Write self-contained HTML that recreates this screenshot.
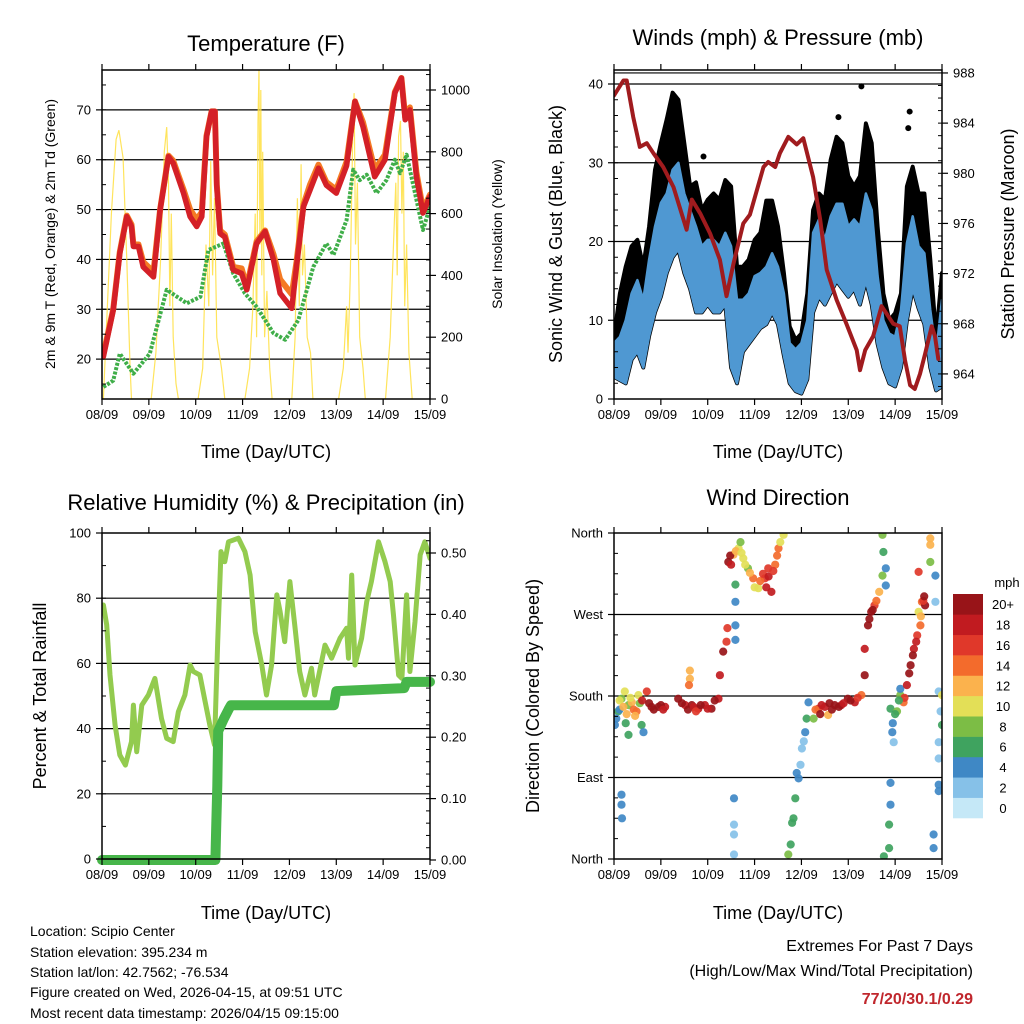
<!DOCTYPE html>
<html><head><meta charset="utf-8"><title>Weather station 7-day summary</title>
<style>
html,body{margin:0;padding:0;background:#fff;}
svg{display:block;font-family:"Liberation Sans",Arial,sans-serif;}
</style></head>
<body>
<svg id="chart" width="1024" height="1024" viewBox="0 0 1024 1024" xmlns="http://www.w3.org/2000/svg">
<defs>
<clipPath id="c1"><rect x="102" y="70" width="328" height="329"/></clipPath>
<clipPath id="c2"><rect x="614" y="70" width="328" height="329"/></clipPath>
<clipPath id="c3"><rect x="102" y="533" width="328" height="326"/></clipPath>
<clipPath id="c4"><rect x="614" y="533" width="328" height="326"/></clipPath>
</defs>
<g font-size="22" text-anchor="middle" fill="#000">
<text x="266" y="51">Temperature (F)</text>
<text x="778" y="45">Winds (mph) &amp; Pressure (mb)</text>
<text x="266" y="510">Relative Humidity (%) &amp; Precipitation (in)</text>
<text x="778" y="505">Wind Direction</text>
</g>
<g font-size="18" text-anchor="middle">
<text x="266" y="458">Time (Day/UTC)</text>
<text x="778" y="458">Time (Day/UTC)</text>
<text x="266" y="919">Time (Day/UTC)</text>
<text x="778" y="919">Time (Day/UTC)</text>
<text font-size="14" transform="translate(55,234) rotate(-90)">2m &amp; 9m T (Red, Orange) &amp; 2m Td (Green)</text>
<text font-size="14" transform="translate(502,234) rotate(-90)">Solar Insolation (Yellow)</text>
<text transform="translate(562,234) rotate(-90)">Sonic Wind &amp; Gust (Blue, Black)</text>
<text transform="translate(1014,234) rotate(-90)">Station Pressure (Maroon)</text>
<text transform="translate(46,696) rotate(-90)">Percent &amp; Total Rainfall</text>
<text transform="translate(539,696) rotate(-90)">Direction (Colored By Speed)</text>
</g>
<g font-size="14">
<text x="30" y="936">Location: Scipio Center</text>
<text x="30" y="957">Station elevation: 395.234 m</text>
<text x="30" y="977">Station lat/lon: 42.7562; -76.534</text>
<text x="30" y="997">Figure created on Wed, 2026-04-15, at 09:51 UTC</text>
<text x="30" y="1018">Most recent data timestamp: 2026/04/15 09:15:00</text>
</g>
<g font-size="16" text-anchor="end">
<text x="973" y="951">Extremes For Past 7 Days</text>
<text x="973" y="976">(High/Low/Max Wind/Total Precipitation)</text>
<text x="973" y="1004" fill="#c0272d" font-weight="bold">77/20/30.1/0.29</text>
</g>
</svg>
<script>
// ---------- DATA ----------
const dayLabels = ["08/09","09/09","10/09","11/09","12/09","13/09","14/09","15/09"];
const tTime = [0.03,0.24,0.38,0.53,0.63,0.67,0.78,0.88,1.1,1.24,1.42,1.52,1.74,1.88,2.02,2.13,2.23,2.34,2.41,2.45,2.52,2.62,2.8,2.98,3.09,3.3,3.48,3.66,3.8,4.05,4.15,4.3,4.44,4.62,4.79,5.0,5.22,5.4,5.57,5.82,6.04,6.25,6.39,6.47,6.57,6.71,6.85,7.0];
const tRed = [20.5,29.8,41.2,48.6,46.6,42.6,42.6,38.5,36.5,49.9,60.6,59.3,53.3,48.6,46.6,48.6,64.6,69.7,69.7,54.6,45.2,44.5,37.9,37.2,33.9,43.2,45.6,39.9,33.2,30.2,38.5,50.6,53.9,58.3,54.9,53.3,58.8,71.7,66.6,56.6,60,73.4,76.4,68,70,56.6,49.3,52.6];
const tOrange = [21,30,41.5,48.8,47,43,43,39.5,37.5,50,60.8,59.8,54,50,48,49.5,64.8,69.7,69.7,55,45.8,45,38.5,38.2,34.5,43.6,45.8,41,36,33,39.5,51,55,59,55.5,54,59.6,71.7,67.5,58,61,73.6,76.4,68.5,70.5,57.5,50,53];
const tdTime = [0.03,0.24,0.38,0.67,1.02,1.38,1.81,2.1,2.27,2.59,2.8,3.05,3.3,3.66,3.91,4.19,4.51,4.79,4.94,5.22,5.36,5.5,5.65,5.86,6.07,6.25,6.36,6.5,6.68,6.85,7.0];
const tdVal = [14.4,15.7,21.1,17.1,21.1,33.9,31.2,32.5,41.9,43.2,37.2,33.2,30.5,25.2,23.9,27.8,38.5,43.2,40.9,47.9,58,55.9,57,53.3,55.9,60,57.3,61,53.3,45.9,50.6];
const solTime = [0.03,0.1,0.2,0.3,0.36,0.45,0.53,0.6,0.63, 1.05,1.15,1.25,1.33,1.38,1.42,1.45,1.48,1.52,1.58,1.63, 2.05,2.15,2.22,2.28,2.32,2.36,2.4,2.45,2.55,2.62, 3.05,3.15,3.22,3.27,3.3,3.33,3.35,3.37,3.39,3.41,3.43,3.47,3.52,3.58,3.63, 4.05,4.12,4.17,4.21,4.25,4.28,4.32,4.38,4.45,4.5, 5.05,5.15,5.22,5.25,5.3,5.35,5.38,5.41,5.45,5.5,5.57,5.62, 6.05,6.15,6.22,6.27,6.3,6.33,6.37,6.4,6.43,6.46,6.5,6.55,6.62];
const solVal = [0,250,600,840,870,780,450,100,0, 0,150,450,800,880,700,300,600,200,50,0, 0,100,500,300,770,400,650,200,100,0, 0,100,300,600,200,900,1070,500,1000,400,800,200,350,100,0, 0,200,650,300,760,400,500,200,150,0, 0,100,300,150,400,850,990,500,700,200,100,0, 0,200,500,700,400,850,900,600,800,300,500,150,0];
const wHi = [7.1,7.9,10,13.4,15.1,12.6,17.7,21.9,24.9,26.1,29.1,30,26.1,24,21.9,19.4,20.2,20.2,19.4,21.1,19.4,12.6,12.6,13.4,15.6,16,16.8,18.5,16.8,13.4,7.1,6.3,7.1,10,21.1,22.8,20.2,23.2,24.8,24.8,21.9,22.8,21.9,26.1,24,15.6,10,8.3,7.9,11.3,19.8,23.2,19.4,18.5,11.3,5.8,12.6];
const wLo = [2.8,2.4,2,5,6,4,8,11,13,16,18,19,16,14,11,11,12,11,11,12,4,2,6,7,8,9,9.5,11,9.5,5.5,2,1,0.7,2.5,11,13,12,13.5,15,14,13,14,12,15,12,7,4,2,1.6,4,10,14,11.5,9.5,4,1.1,1.6];
const gHi = [7.9,13.4,16.8,19.4,20.2,16.8,21.9,29.1,32.5,35.5,38.9,38,32.5,27,27.5,24,25.3,26.1,25.3,27.8,27,16.8,16.8,17.7,20.2,21.1,25.2,25.2,21.9,16,9.2,7.5,8.3,13.4,24,26.1,25.3,30.4,33.3,32.5,28.3,27,28.3,35,32.5,21.9,13.4,10,10.9,13.4,27,29.5,26.1,26.1,17.7,7.9,16];
const gOutT = [1.91,4.79,5.28,6.28,6.31];
const gOutV = [30.8,35.8,39.7,34.4,36.5];
const pTime = [0,0.2,0.27,0.41,0.55,0.7,0.84,1.05,1.27,1.55,1.66,1.84,2.05,2.26,2.4,2.55,2.76,2.9,3.19,3.29,3.44,3.54,3.72,3.9,4.04,4.25,4.4,4.54,4.75,4.96,5.18,5.25,5.36,5.53,5.71,5.96,6.1,6.21,6.32,6.42,6.53,6.64,6.78,6.85,6.92];
const pVal = [986.2,987.4,987.4,984.5,982.1,982.4,981.6,980.5,978.9,975.5,977.9,976.8,975.2,973.1,970.2,972.8,976,976.7,980.5,980.9,980.5,981.6,982.9,982.3,982.8,979.7,976.3,972.3,969.9,968,965.9,964.3,965.9,967,969.4,968,967.8,965.1,963.1,962.8,964,965.6,967.8,967,965.2];
const rhTime = [0.03,0.1,0.17,0.28,0.38,0.5,0.63,0.67,0.74,0.85,0.99,1.13,1.27,1.38,1.52,1.63,1.77,1.88,1.95,2.09,2.2,2.3,2.4,2.47,2.54,2.62,2.7,2.91,3.05,3.16,3.27,3.41,3.51,3.62,3.73,3.8,3.9,4.01,4.12,4.22,4.33,4.47,4.54,4.76,4.9,5.08,5.22,5.26,5.33,5.4,5.54,5.65,5.75,5.9,6.04,6.15,6.22,6.33,6.4,6.5,6.57,6.68,6.79,6.89,7.0];
const rhVal = [77.9,71.8,56.4,41,31.9,28.8,36,47.2,32.9,47.2,50.3,55.4,43.1,37,36,45.2,50.3,59.5,57.5,56.4,48.3,41.1,35,66.7,94.3,91.2,97.3,98.4,94.3,87.1,69.7,59.5,50.3,59.5,81,75.9,66.7,85.1,70.8,57.5,50.3,58.5,50.3,65.6,61.6,67.7,70.8,61.6,87.1,59.5,67.7,78.9,85.1,97.3,91.2,85.1,74.8,56.4,55.4,81,57.5,72.8,93.3,97.3,92.2];
const prTime = [0,2.42,2.44,2.46,2.48,2.6,2.7,2.75,4.95,5.0,6.45,6.5,7.0];
const prVal = [0,0,0.06,0.12,0.21,0.23,0.245,0.252,0.252,0.275,0.28,0.29,0.29];
const dirT = [0.02,0.09,0.16,0.23,0.31,0.38,0.48,0.52,0.59,0.63,0.31,0.12,0.7,0.8,0.95,1.09,1.37,1.52,1.62,1.66,1.8,1.94,2.08,2.23,2.26,2.33,2.4,2.42,2.44,2.55,2.66,2.76,2.86,2.97,3.08,3.22,3.29,3.36,3.44,3.51,3.62,2.59,2.59,2.59,2.59,0.16,0.16,0.17,2.56,2.56,2.56,2.56,3.72,3.77,3.83,3.87,3.94,3.98,4.01,4.08,4.11,4.15,4.26,4.36,4.43,4.57,4.71,4.85,4.99,5.14,5.28,5.35,5.35,5.42,5.49,5.56,5.66,5.73,5.75,5.73,5.8,5.8,5.9,5.94,5.97,6.04,6.11,6.11,6.18,6.25,6.33,6.4,6.47,6.54,6.5,6.57,6.64,6.5,6.75,6.75,6.75,6.86,6.86,5.9,5.9,5.87,5.87,5.76,6.93,7.0,6.97,7.0,6.93,6.93,6.93,6.93,6.82,6.82,
 0.05,0.12,0.2,0.27,0.35,0.42,0.45,0.55,0.25,0.6,0.75,0.85,1.0,1.05,1.45,1.58,1.7,1.75,1.85,2.0,2.15,1.62,1.6,2.48,2.5,2.6,2.7,2.72,2.8,2.9,3.0,3.12,3.18,3.25,3.3,3.4,3.48,3.55,4.3,4.4,4.5,4.6,4.65,4.8,4.9,5.05,5.2,5.45,5.52,5.6,6.2,6.3,6.38,6.45,6.55,6.6,6.62,3.9,4.05,3.8,5.95,6.0,6.08];
const dirDeg = [148,163,177,185,170,173,163,181,148,140,137,165,185,168,168,168,177,170,199,170,166,170,166,177,203,229,240,255,328,336,343,332,321,310,299,310,321,295,325,343,358,284,258,242,303,71,60,45,67,38,27,5,5,16,45,67,89,104,122,140,155,173,155,166,170,159,170,170,177,173,181,203,232,258,273,280,295,313,339,358,321,302,166,140,129,163,181,188,173,192,214,232,247,258,273,284,280,317,328,354,347,313,284,84,60,38,12,3,185,181,163,148,129,111,82,75,27,12,
 155,175,168,160,178,165,158,172,150,175,172,165,170,165,172,165,168,163,170,166,175,208,192,335,325,340,350,338,325,316,300,307,315,300,312,318,335,350,165,160,168,172,165,168,172,175,178,265,275,285,178,205,225,240,268,285,290,95,130,40,150,160,175];
const dirSpd = [3,5,7,10,8,11,13,9,6,4,5,3,16,19,19,18,20,18,12,19,18,17,20,18,17,20,16,16,20,12,10,10,8,13,9,16,16,17,14,14,9,4,3,4,6,4,3,4,4,2,2,2,7,6,5,6,4,2,2,3,5,4,8,16,18,12,19,18,20,18,14,20,17,20,20,15,12,7,6,7,4,4,5,3,2,8,8,4,14,18,20,18,16,13,10,14,20,16,8,11,12,4,2,4,4,6,6,6,1,10,2,6,2,2,4,4,4,3,
 4,9,11,12,9,14,12,7,6,17,20,20,20,18,19,20,18,16,20,17,19,12,13,19,18,11,8,10,10,12,9,14,16,18,17,16,14,10,14,19,18,20,19,20,18,20,16,20,20,13,16,20,20,18,12,15,20,3,2,6,3,6,5];
const cbLabels = ["0","2","4","6","8","10","12","14","16","18","20+"];
const cbColors = ["#c5e8f7","#86c1e8","#3f88c5","#3fa35f","#7cbd45","#e3df57","#fbb24d","#f36b2c","#e0382a","#c11b20","#981418"];

// ---------- HELPERS ----------
const NS = "http://www.w3.org/2000/svg";
const svg = document.getElementById('chart');
function mk(tag, attrs, parent){ const e = document.createElementNS(NS, tag); for (const k in attrs) e.setAttribute(k, attrs[k]); (parent||svg).appendChild(e); return e; }
const P = {
  t:{x:102,y:70,w:328,h:329}, w:{x:614,y:70,w:328,h:329},
  r:{x:102,y:533,w:328,h:326}, d:{x:614,y:533,w:328,h:326}
};
const sx = (p, d) => p.x + d/7*p.w;
const yT = v => 399 - (v-12)/66*329;
const yS = v => 399 - v*0.309;
const yW = v => 399 - v*7.875;
const yP = v => 399 - (v-962)*12.54;
const yR = v => 859 - v*3.26;
const yPr = v => 860 - v*614;
const yD = v => 859 - v*326/360;
function linePath(p, ts, vs, fy){ return ts.map((t,i)=>(i?'L':'M')+sx(p,t).toFixed(1)+','+fy(vs[i]).toFixed(1)).join(''); }

function gridAndFrame(p, key, gridVals, fy){
  const g = mk('g', {});
  
  
  gridVals.forEach(v=>{ mk('line',{x1:p.x,x2:p.x+p.w,y1:fy(v),y2:fy(v),stroke:'#000','stroke-width':1.2},g); });
}
function frame(p, key){
  const f = mk('rect',{x:p.x,y:p.y,width:p.w,height:p.h,fill:'none',stroke:'#000','stroke-width':1.5});
  
  
  const g = mk('g',{'font-size':13,'text-anchor':'middle'});
  
  
  dayLabels.forEach((lab,i)=>{
    const x = sx(p,i);
    mk('line',{x1:x,x2:x,y1:p.y+p.h,y2:p.y+p.h+6,stroke:'#000','stroke-width':1.2},g);
    mk('line',{x1:x,x2:x,y1:p.y,y2:p.y-6,stroke:'#000','stroke-width':1.2},g);
    const t = mk('text',{x:x,y:p.y+p.h+20},g); t.textContent = lab;
  });
}
function yAxis(p, key, side, vals, labels, fy, minorVals){
  const g = mk('g',{'font-size':13,'text-anchor': side==='left'?'end':'start'});
  
  
  const x0 = side==='left'? p.x : p.x+p.w;
  const dir = side==='left'? -1 : 1;
  (minorVals||[]).forEach(v=>{ mk('line',{x1:x0,x2:x0-dir*4,y1:fy(v),y2:fy(v),stroke:'#000','stroke-width':1},g); });
  vals.forEach((v,i)=>{
    const y = fy(v);
    mk('line',{x1:x0,x2:x0+dir*6,y1:y,y2:y,stroke:'#000','stroke-width':1.2},g);
    const t = mk('text',{x:x0+dir*11,y:y+4.5},g); t.textContent = labels[i];
  });
}
function range(a,b,s){ const r=[]; for(let v=a; v<=b+1e-9; v+=s) r.push(+v.toFixed(4)); return r; }

// ---------- PANEL 1: TEMPERATURE ----------
(function(){
  const p = P.t;
  gridAndFrame(p,'temp',[20,30,40,50,60,70],yT);
  const g = mk('g',{'clip-path':'url(#c1)'});
  const sol = mk('path',{d:linePath(p,solTime,solVal,yS),fill:'none',stroke:'#ffdf40','stroke-width':1.2,'stroke-opacity':0.85},g);
  
  
  const td = mk('path',{d:linePath(p,tdTime,tdVal,yT),fill:'none',stroke:'#3fae49','stroke-width':4,'stroke-dasharray':'3 1.5','stroke-linejoin':'round'},g);
  
  
  const o = mk('path',{d:linePath(p,tTime,tOrange,yT),fill:'none',stroke:'#f47a24','stroke-width':6,'stroke-linejoin':'round','stroke-linecap':'round'},g);
  
  
  const r = mk('path',{d:linePath(p,tTime,tRed,yT),fill:'none',stroke:'#d42027','stroke-width':5.5,'stroke-linejoin':'round','stroke-linecap':'round'},g);
  
  
  frame(p,'temp');
  yAxis(p,'temp','left',[20,30,40,50,60,70],["20","30","40","50","60","70"],yT,range(15,75,5));
  yAxis(p,'solar','right',[0,200,400,600,800,1000],["0","200","400","600","800","1000"],yS,range(50,1050,50));
})();

// ---------- PANEL 2: WINDS ----------
(function(){
  const p = P.w;
  gridAndFrame(p,'winds',[10,20,30,40],yW);
  mk('line',{x1:p.x,x2:p.x+p.w,y1:yP(988),y2:yP(988),stroke:'#000','stroke-width':1.2});
  const g = mk('g',{'clip-path':'url(#c2)'});
  const wT = wHi.map((_,i)=>i*0.125);
  let top = wT.map((t,i)=>sx(p,t).toFixed(1)+','+yW(gHi[i]).toFixed(1));
  let bot = wT.map((t,i)=>sx(p,t).toFixed(1)+','+yW(wLo[i]).toFixed(1)).reverse();
  const gust = mk('polygon',{points:top.concat(bot).join(' '),fill:'#000',stroke:'#000','stroke-width':4,'stroke-linejoin':'round'},g);
  
  
  gOutT.forEach((t,i)=>{
    const c = mk('circle',{cx:sx(p,t),cy:yW(gOutV[i]),r:3,fill:'#000'},g);
    
    
  });
  top = wT.map((t,i)=>sx(p,t).toFixed(1)+','+yW(wHi[i]).toFixed(1));
  bot = wT.map((t,i)=>sx(p,t).toFixed(1)+','+yW(wLo[i]).toFixed(1)).reverse();
  const wind = mk('polygon',{points:top.concat(bot).join(' '),fill:'#4f98d2',stroke:'#4f98d2','stroke-width':2.5,'stroke-linejoin':'round'},g);
  
  
  const pr = mk('path',{d:linePath(p,pTime,pVal,yP),fill:'none',stroke:'#a01b1e','stroke-width':4,'stroke-linejoin':'round','stroke-linecap':'round'},g);
  
  
  frame(p,'winds');
  yAxis(p,'wind','left',[0,10,20,30,40],["0","10","20","30","40"],yW,range(2,40,2));
  yAxis(p,'pressure','right',[964,968,972,976,980,984,988],["964","968","972","976","980","984","988"],yP,range(963,988,1));
})();

// ---------- PANEL 3: RH & PRECIP ----------
(function(){
  const p = P.r;
  gridAndFrame(p,'rh',[20,40,60,80],yR);
  const g = mk('g',{'clip-path':'url(#c3)'});
  const rh = mk('path',{d:linePath(p,rhTime,rhVal,yR),fill:'none',stroke:'#93cb4f','stroke-width':5,'stroke-linejoin':'round','stroke-linecap':'round'},g);
  
  
  const pc = mk('path',{d:linePath(p,prTime,prVal,yPr),fill:'none',stroke:'#47b64a','stroke-width':10,'stroke-linejoin':'round','stroke-linecap':'round'},svg);
  
  
  frame(p,'rh');
  yAxis(p,'rh','left',[0,20,40,60,80,100],["0","20","40","60","80","100"],yR,range(10,100,10));
  yAxis(p,'precip','right',[0,0.1,0.2,0.3,0.4,0.5],["0.00","0.10","0.20","0.30","0.40","0.50"],yPr,range(0.02,0.52,0.02));
})();

// ---------- PANEL 4: WIND DIRECTION ----------
(function(){
  const p = P.d;
  gridAndFrame(p,'dir',[90,180,270],yD);
  const g = mk('g',{'clip-path':'url(#c4)'});
  dirT.forEach((t,i)=>{
    const ci = Math.min(10, Math.round(dirSpd[i]/2));
    const c = mk('circle',{cx:sx(p,t).toFixed(1),cy:yD(dirDeg[i]).toFixed(1),r:4.1,fill:cbColors[ci],'fill-opacity':0.92},g);
    
    
  });
  frame(p,'dir');
  yAxis(p,'dir','left',[0,90,180,270,360],["North","East","South","West","North"],yD,range(22.5,360,22.5));
  const cb = mk('g',{});
  
  
  const cbTop = 594, cbH = 224/11;
  cbColors.forEach((col,i)=>{
    const y = cbTop + (10-i)*cbH;
    mk('rect',{x:953,y:y,width:30,height:cbH+0.3,fill:col},cb);
    const t = mk('text',{x:1003,y:y+cbH/2+5,'font-size':13,'text-anchor':'middle'},cb);
    t.textContent = cbLabels[i];
  });
  const u = mk('text',{x:1007,y:587,'font-size':13,'text-anchor':'middle'},cb);
  u.textContent = 'mph';
})();
</script>
</body></html>
